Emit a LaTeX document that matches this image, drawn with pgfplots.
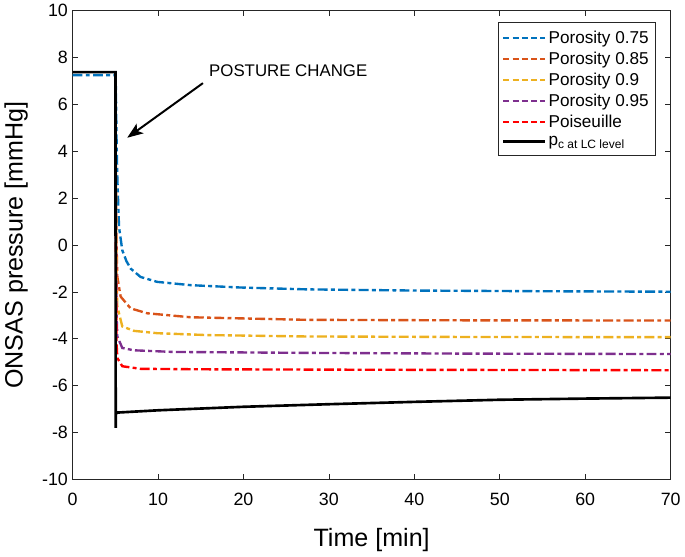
\documentclass[border=0pt]{standalone}
\usepackage{fontspec}
\setmainfont{Liberation Sans}
\usepackage{pgfplots}
\pgfplotsset{compat=1.18}
\usetikzlibrary{arrows.meta}
\definecolor{mblue}{rgb}{0,0.447,0.741}
\definecolor{morange}{rgb}{0.85,0.325,0.098}
\definecolor{myellow}{rgb}{0.929,0.694,0.125}
\definecolor{mpurple}{rgb}{0.494,0.184,0.556}
\definecolor{axgray}{rgb}{0.15,0.15,0.15}
\begin{document}
\begin{tikzpicture}
\begin{axis}[
  scale only axis,
  width=453pt, height=355pt,
  xmin=0, xmax=70, ymin=-10, ymax=10,
  xtick={0,10,...,70}, ytick={-10,-8,...,10},
  tick align=inside,
  major tick length=4pt,
  axis line style={axgray, line width=0.6pt},
  tick style={axgray, line width=0.6pt},
  every tick label/.append style={font=\fontsize{13.5}{16}\selectfont, text=black},
  xticklabel style={yshift=-7pt},
  /pgf/number format/assume math mode=true,
  label style={font=\fontsize{19}{22}\selectfont},
  xlabel={Time [min]},
  ylabel={ONSAS pressure [mmHg]},
  xlabel style={yshift=-10pt},
  ylabel style={yshift=4pt},
  legend style={at={(rel axis cs:0.975,0.975)}, anchor=north east,
    font=\fontsize{13}{15.5}\selectfont, draw=axgray, line width=0.6pt,
    row sep=1pt, inner xsep=3pt, inner ysep=4pt},
  legend cell align=left,
  legend image code/.code={\draw[#1, line width=1.8pt] plot coordinates {(0cm,0cm) (1.1cm,0cm)};},
  every axis plot/.append style={line width=1.8pt},
  dd/.style={dash pattern=on 7.5pt off 2.5pt on 3pt off 2.5pt},
  ld/.style={dash pattern=on 4.5pt off 2.5pt},
]
\addplot[mblue, dd, forget plot] coordinates {
(0,7.25)(5.05,7.25)(5.15,4.5)(5.24,2.88)(5.44,0.76)(5.82,-0.22)(6.3,-0.68)(6.79,-1.0)(7.96,-1.36)(9.9,-1.57)(13.8,-1.71)(19.6,-1.81)(27.4,-1.89)(40,-1.94)(55,-1.97)(70,-1.99)};
\addlegendimage{mblue, ld}
\addlegendentry{Porosity 0.75}
\addplot[morange, dd, forget plot] coordinates {
(5.05,4)(5.15,0)(5.24,-1.36)(5.63,-2.2)(6.79,-2.7)(8.73,-2.91)(13.8,-3.08)(27.4,-3.19)(45,-3.21)(70,-3.22)};
\addlegendimage{morange, ld}
\addlegendentry{Porosity 0.85}
\addplot[myellow, dd, forget plot] coordinates {
(5.05,3)(5.15,-1.5)(5.24,-2.63)(5.82,-3.47)(7.18,-3.66)(9.9,-3.76)(15.7,-3.84)(27.4,-3.9)(45,-3.92)(70,-3.93)};
\addlegendimage{myellow, ld}
\addlegendentry{Porosity 0.9}
\addplot[mpurple, dd, forget plot] coordinates {
(5.05,2)(5.15,-3.0)(5.24,-3.9)(5.82,-4.39)(7.18,-4.49)(11.8,-4.56)(27.4,-4.6)(45,-4.63)(70,-4.65)};
\addlegendimage{mpurple, ld}
\addlegendentry{Porosity 0.95}
\addplot[red, dd, forget plot] coordinates {
(5.05,1)(5.15,-4.2)(5.24,-4.82)(5.82,-5.17)(7.96,-5.28)(15,-5.3)(35,-5.32)(70,-5.34)};
\addlegendimage{red, ld}
\addlegendentry{Poiseuille}
\addplot[black, solid, line width=2pt] coordinates {
(0,7.38)(5.02,7.38)(5.05,-7.8)(5.08,-7.15)(10,-7.05)(20,-6.9)(30,-6.79)(40,-6.69)(50,-6.6)(60,-6.55)(70,-6.51)};
\addlegendentry{p\textsubscript{c at LC level}}
\draw[black, line width=1.5pt, -{Stealth[length=12pt,width=9pt,inset=3pt]}] (axis cs:15.26,6.91) -- (axis cs:6.4,4.58);
\node[anchor=west, font=\fontsize{12.75}{15}\selectfont, inner sep=0pt] at (axis cs:15.96,7.42) {POSTURE CHANGE};
\end{axis}
\end{tikzpicture}
\end{document}
